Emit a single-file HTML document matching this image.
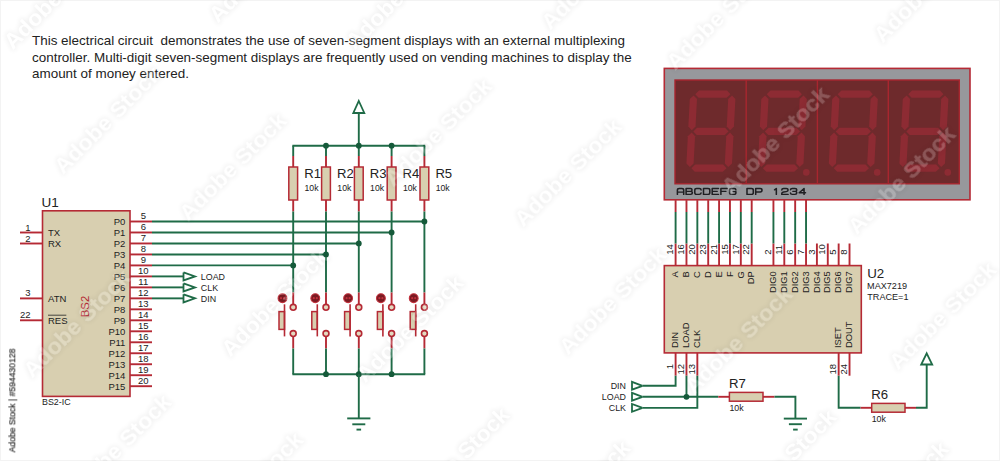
<!DOCTYPE html>
<html><head><meta charset="utf-8"><title>Seven-segment multiplexing circuit</title>
<style>
html,body{margin:0;padding:0;background:#fff;}
body{width:1000px;height:461px;overflow:hidden;font-family:"Liberation Sans",sans-serif;}
svg{display:block;font-family:"Liberation Sans",sans-serif;}
</style></head><body>
<svg width="1000" height="461" viewBox="0 0 1000 461">
<rect width="1000" height="461" fill="#ffffff"/>
<rect x="0.5" y="0.5" width="999" height="460" fill="none" stroke="#f3f3f3" stroke-width="1"/>
<text x="32" y="45.4" font-size="13.44" text-anchor="start" fill="#222222" >This electrical circuit&#160; demonstrates the use of seven-segment displays with an external multiplexing</text>
<text x="32" y="61.6" font-size="13.44" text-anchor="start" fill="#222222" >controller. Multi-digit seven-segment displays are frequently used on vending machines to display the</text>
<text x="32" y="77.9" font-size="13.44" text-anchor="start" fill="#222222" >amount of money entered.</text>
<rect x="42.5" y="210.8" width="87.5" height="185.6" fill="#d8cfb0" stroke="#b52a35" stroke-width="1.6"/>
<text x="41.6" y="207.0" font-size="13.5" text-anchor="start" fill="#222222" >U1</text>
<text x="42" y="405.2" font-size="8.9" text-anchor="start" fill="#222222" >BS2-IC</text>
<text transform="translate(89.4,306.5) rotate(-90)" font-size="11.3" text-anchor="middle" fill="#b52a35">BS2</text>
<line x1="130" y1="221.5" x2="152" y2="221.5" stroke="#b52a35" stroke-width="1.9"/>
<text x="125.4" y="224.9" font-size="9.5" text-anchor="end" fill="#222222" >P0</text>
<text x="143.3" y="218.9" font-size="9.5" text-anchor="middle" fill="#222222" >5</text>
<line x1="130" y1="232.48" x2="152" y2="232.48" stroke="#b52a35" stroke-width="1.9"/>
<text x="125.4" y="235.88" font-size="9.5" text-anchor="end" fill="#222222" >P1</text>
<text x="143.3" y="229.88" font-size="9.5" text-anchor="middle" fill="#222222" >6</text>
<line x1="130" y1="243.46" x2="152" y2="243.46" stroke="#b52a35" stroke-width="1.9"/>
<text x="125.4" y="246.86" font-size="9.5" text-anchor="end" fill="#222222" >P2</text>
<text x="143.3" y="240.86" font-size="9.5" text-anchor="middle" fill="#222222" >7</text>
<line x1="130" y1="254.44" x2="152" y2="254.44" stroke="#b52a35" stroke-width="1.9"/>
<text x="125.4" y="257.84" font-size="9.5" text-anchor="end" fill="#222222" >P3</text>
<text x="143.3" y="251.84" font-size="9.5" text-anchor="middle" fill="#222222" >8</text>
<line x1="130" y1="265.42" x2="152" y2="265.42" stroke="#b52a35" stroke-width="1.9"/>
<text x="125.4" y="268.82" font-size="9.5" text-anchor="end" fill="#222222" >P4</text>
<text x="143.3" y="262.82" font-size="9.5" text-anchor="middle" fill="#222222" >9</text>
<line x1="130" y1="276.4" x2="152" y2="276.4" stroke="#b52a35" stroke-width="1.9"/>
<text x="125.4" y="279.79999999999995" font-size="9.5" text-anchor="end" fill="#222222" >P5</text>
<text x="143.3" y="273.79999999999995" font-size="9.5" text-anchor="middle" fill="#222222" >10</text>
<line x1="130" y1="287.38" x2="152" y2="287.38" stroke="#b52a35" stroke-width="1.9"/>
<text x="125.4" y="290.78" font-size="9.5" text-anchor="end" fill="#222222" >P6</text>
<text x="143.3" y="284.78" font-size="9.5" text-anchor="middle" fill="#222222" >11</text>
<line x1="130" y1="298.36" x2="152" y2="298.36" stroke="#b52a35" stroke-width="1.9"/>
<text x="125.4" y="301.76" font-size="9.5" text-anchor="end" fill="#222222" >P7</text>
<text x="143.3" y="295.76" font-size="9.5" text-anchor="middle" fill="#222222" >12</text>
<line x1="130" y1="309.34" x2="152" y2="309.34" stroke="#b52a35" stroke-width="1.9"/>
<text x="125.4" y="312.73999999999995" font-size="9.5" text-anchor="end" fill="#222222" >P8</text>
<text x="143.3" y="306.73999999999995" font-size="9.5" text-anchor="middle" fill="#222222" >13</text>
<line x1="130" y1="320.32" x2="152" y2="320.32" stroke="#b52a35" stroke-width="1.9"/>
<text x="125.4" y="323.71999999999997" font-size="9.5" text-anchor="end" fill="#222222" >P9</text>
<text x="143.3" y="317.71999999999997" font-size="9.5" text-anchor="middle" fill="#222222" >14</text>
<line x1="130" y1="331.3" x2="152" y2="331.3" stroke="#b52a35" stroke-width="1.9"/>
<text x="125.4" y="334.7" font-size="9.5" text-anchor="end" fill="#222222" >P10</text>
<text x="143.3" y="328.7" font-size="9.5" text-anchor="middle" fill="#222222" >15</text>
<line x1="130" y1="342.28" x2="152" y2="342.28" stroke="#b52a35" stroke-width="1.9"/>
<text x="125.4" y="345.67999999999995" font-size="9.5" text-anchor="end" fill="#222222" >P11</text>
<text x="143.3" y="339.67999999999995" font-size="9.5" text-anchor="middle" fill="#222222" >16</text>
<line x1="130" y1="353.26" x2="152" y2="353.26" stroke="#b52a35" stroke-width="1.9"/>
<text x="125.4" y="356.65999999999997" font-size="9.5" text-anchor="end" fill="#222222" >P12</text>
<text x="143.3" y="350.65999999999997" font-size="9.5" text-anchor="middle" fill="#222222" >17</text>
<line x1="130" y1="364.24" x2="152" y2="364.24" stroke="#b52a35" stroke-width="1.9"/>
<text x="125.4" y="367.64" font-size="9.5" text-anchor="end" fill="#222222" >P13</text>
<text x="143.3" y="361.64" font-size="9.5" text-anchor="middle" fill="#222222" >18</text>
<line x1="130" y1="375.22" x2="152" y2="375.22" stroke="#b52a35" stroke-width="1.9"/>
<text x="125.4" y="378.62" font-size="9.5" text-anchor="end" fill="#222222" >P14</text>
<text x="143.3" y="372.62" font-size="9.5" text-anchor="middle" fill="#222222" >19</text>
<line x1="130" y1="386.2" x2="152" y2="386.2" stroke="#b52a35" stroke-width="1.9"/>
<text x="125.4" y="389.59999999999997" font-size="9.5" text-anchor="end" fill="#222222" >P15</text>
<text x="143.3" y="383.59999999999997" font-size="9.5" text-anchor="middle" fill="#222222" >20</text>
<line x1="20" y1="232.5" x2="42.5" y2="232.5" stroke="#b52a35" stroke-width="1.9"/>
<text x="30.6" y="230.5" font-size="9.5" text-anchor="end" fill="#222222" >1</text>
<text x="48" y="235.9" font-size="9.5" text-anchor="start" fill="#222222" >TX</text>
<line x1="20" y1="243.5" x2="42.5" y2="243.5" stroke="#b52a35" stroke-width="1.9"/>
<text x="30.6" y="241.5" font-size="9.5" text-anchor="end" fill="#222222" >2</text>
<text x="48" y="246.9" font-size="9.5" text-anchor="start" fill="#222222" >RX</text>
<line x1="20" y1="298.4" x2="42.5" y2="298.4" stroke="#b52a35" stroke-width="1.9"/>
<text x="30.6" y="296.4" font-size="9.5" text-anchor="end" fill="#222222" >3</text>
<text x="48" y="301.79999999999995" font-size="9.5" text-anchor="start" fill="#222222" >ATN</text>
<line x1="20" y1="320.3" x2="42.5" y2="320.3" stroke="#b52a35" stroke-width="1.9"/>
<text x="30.6" y="318.3" font-size="9.5" text-anchor="end" fill="#222222" >22</text>
<text x="48" y="323.7" font-size="9.5" text-anchor="start" fill="#222222" >RES</text>
<line x1="48" y1="315.2" x2="66.3" y2="315.2" stroke="#222222" stroke-width="0.8"/>
<line x1="152" y1="221.5" x2="424.4" y2="221.5" stroke="#1f6b47" stroke-width="1.9"/>
<line x1="152" y1="232.48" x2="391.6" y2="232.48" stroke="#1f6b47" stroke-width="1.9"/>
<line x1="152" y1="243.46" x2="358.8" y2="243.46" stroke="#1f6b47" stroke-width="1.9"/>
<line x1="152" y1="254.44" x2="326" y2="254.44" stroke="#1f6b47" stroke-width="1.9"/>
<line x1="152" y1="265.42" x2="293.2" y2="265.42" stroke="#1f6b47" stroke-width="1.9"/>
<line x1="152" y1="276.4" x2="183.5" y2="276.4" stroke="#1f6b47" stroke-width="1.9"/>
<polyline points="183.5,272.4 195,276.4 183.5,280.4 183.5,272.4" stroke="#1f6b47" stroke-width="1.8" fill="none" stroke-linejoin="miter"/>
<text x="200.8" y="279.59999999999997" font-size="8.9" text-anchor="start" fill="#222222" >LOAD</text>
<line x1="152" y1="287.38" x2="183.5" y2="287.38" stroke="#1f6b47" stroke-width="1.9"/>
<polyline points="183.5,283.38 195,287.38 183.5,291.38 183.5,283.38" stroke="#1f6b47" stroke-width="1.8" fill="none" stroke-linejoin="miter"/>
<text x="200.8" y="290.58" font-size="8.9" text-anchor="start" fill="#222222" >CLK</text>
<line x1="152" y1="298.36" x2="183.5" y2="298.36" stroke="#1f6b47" stroke-width="1.9"/>
<polyline points="183.5,294.36 195,298.36 183.5,302.36 183.5,294.36" stroke="#1f6b47" stroke-width="1.8" fill="none" stroke-linejoin="miter"/>
<text x="200.8" y="301.56" font-size="8.9" text-anchor="start" fill="#222222" >DIN</text>
<line x1="358.8" y1="113" x2="358.8" y2="145.7" stroke="#1f6b47" stroke-width="1.9"/>
<polygon points="358.8,101 364.3,113 353.3,113" stroke="#1f6b47" stroke-width="1.8" fill="none"/>
<line x1="292.4" y1="145.7" x2="425.2" y2="145.7" stroke="#1f6b47" stroke-width="1.9"/>
<line x1="292.4" y1="374.2" x2="425.2" y2="374.2" stroke="#1f6b47" stroke-width="1.9"/>
<line x1="293.2" y1="145.7" x2="293.2" y2="156" stroke="#1f6b47" stroke-width="1.9"/>
<line x1="293.2" y1="156" x2="293.2" y2="167" stroke="#b52a35" stroke-width="1.9"/>
<rect x="288.8" y="167" width="8.8" height="33" fill="#d8cfb0" stroke="#b52a35" stroke-width="1.5"/>
<line x1="293.2" y1="200" x2="293.2" y2="211.5" stroke="#b52a35" stroke-width="1.9"/>
<line x1="293.2" y1="211.5" x2="293.2" y2="292.5" stroke="#1f6b47" stroke-width="1.9"/>
<text x="304.2" y="178.3" font-size="13.1" text-anchor="start" fill="#222222" >R1</text>
<text x="304.5" y="191.2" font-size="8.7" text-anchor="start" fill="#222222" >10k</text>
<line x1="293.2" y1="292.5" x2="293.2" y2="304" stroke="#b52a35" stroke-width="1.9"/>
<circle cx="293.2" cy="307.3" r="2.95" fill="#e3d9c0" stroke="#b52a35" stroke-width="1.6"/>
<circle cx="293.2" cy="333.6" r="2.95" fill="#e3d9c0" stroke="#b52a35" stroke-width="1.6"/>
<line x1="293.2" y1="337" x2="293.2" y2="348.5" stroke="#b52a35" stroke-width="1.9"/>
<line x1="293.2" y1="348.5" x2="293.2" y2="374.2" stroke="#1f6b47" stroke-width="1.9"/>
<rect x="279.0" y="311.6" width="5.5" height="17.8" fill="#d8cfb0" stroke="#b52a35" stroke-width="1.5"/>
<line x1="284.5" y1="304.3" x2="284.5" y2="336.4" stroke="#b52a35" stroke-width="1.6"/>
<circle cx="282.5" cy="298.2" r="4.4" fill="#7a1a22" stroke="#c2313c" stroke-width="1.1"/>
<circle cx="281.0" cy="298.2" r="1.1" fill="#c2313c"/><circle cx="284.0" cy="298.2" r="1.1" fill="#c2313c"/>
<line x1="326" y1="145.7" x2="326" y2="156" stroke="#1f6b47" stroke-width="1.9"/>
<line x1="326" y1="156" x2="326" y2="167" stroke="#b52a35" stroke-width="1.9"/>
<rect x="321.6" y="167" width="8.8" height="33" fill="#d8cfb0" stroke="#b52a35" stroke-width="1.5"/>
<line x1="326" y1="200" x2="326" y2="211.5" stroke="#b52a35" stroke-width="1.9"/>
<line x1="326" y1="211.5" x2="326" y2="292.5" stroke="#1f6b47" stroke-width="1.9"/>
<text x="337.0" y="178.3" font-size="13.1" text-anchor="start" fill="#222222" >R2</text>
<text x="337.3" y="191.2" font-size="8.7" text-anchor="start" fill="#222222" >10k</text>
<line x1="326" y1="292.5" x2="326" y2="304" stroke="#b52a35" stroke-width="1.9"/>
<circle cx="326" cy="307.3" r="2.95" fill="#e3d9c0" stroke="#b52a35" stroke-width="1.6"/>
<circle cx="326" cy="333.6" r="2.95" fill="#e3d9c0" stroke="#b52a35" stroke-width="1.6"/>
<line x1="326" y1="337" x2="326" y2="348.5" stroke="#b52a35" stroke-width="1.9"/>
<line x1="326" y1="348.5" x2="326" y2="374.2" stroke="#1f6b47" stroke-width="1.9"/>
<rect x="311.8" y="311.6" width="5.5" height="17.8" fill="#d8cfb0" stroke="#b52a35" stroke-width="1.5"/>
<line x1="317.3" y1="304.3" x2="317.3" y2="336.4" stroke="#b52a35" stroke-width="1.6"/>
<circle cx="315.3" cy="298.2" r="4.4" fill="#7a1a22" stroke="#c2313c" stroke-width="1.1"/>
<circle cx="313.8" cy="298.2" r="1.1" fill="#c2313c"/><circle cx="316.8" cy="298.2" r="1.1" fill="#c2313c"/>
<line x1="358.8" y1="145.7" x2="358.8" y2="156" stroke="#1f6b47" stroke-width="1.9"/>
<line x1="358.8" y1="156" x2="358.8" y2="167" stroke="#b52a35" stroke-width="1.9"/>
<rect x="354.40000000000003" y="167" width="8.8" height="33" fill="#d8cfb0" stroke="#b52a35" stroke-width="1.5"/>
<line x1="358.8" y1="200" x2="358.8" y2="211.5" stroke="#b52a35" stroke-width="1.9"/>
<line x1="358.8" y1="211.5" x2="358.8" y2="292.5" stroke="#1f6b47" stroke-width="1.9"/>
<text x="369.8" y="178.3" font-size="13.1" text-anchor="start" fill="#222222" >R3</text>
<text x="370.1" y="191.2" font-size="8.7" text-anchor="start" fill="#222222" >10k</text>
<line x1="358.8" y1="292.5" x2="358.8" y2="304" stroke="#b52a35" stroke-width="1.9"/>
<circle cx="358.8" cy="307.3" r="2.95" fill="#e3d9c0" stroke="#b52a35" stroke-width="1.6"/>
<circle cx="358.8" cy="333.6" r="2.95" fill="#e3d9c0" stroke="#b52a35" stroke-width="1.6"/>
<line x1="358.8" y1="337" x2="358.8" y2="348.5" stroke="#b52a35" stroke-width="1.9"/>
<line x1="358.8" y1="348.5" x2="358.8" y2="374.2" stroke="#1f6b47" stroke-width="1.9"/>
<rect x="344.6" y="311.6" width="5.5" height="17.8" fill="#d8cfb0" stroke="#b52a35" stroke-width="1.5"/>
<line x1="350.1" y1="304.3" x2="350.1" y2="336.4" stroke="#b52a35" stroke-width="1.6"/>
<circle cx="348.1" cy="298.2" r="4.4" fill="#7a1a22" stroke="#c2313c" stroke-width="1.1"/>
<circle cx="346.6" cy="298.2" r="1.1" fill="#c2313c"/><circle cx="349.6" cy="298.2" r="1.1" fill="#c2313c"/>
<line x1="391.6" y1="145.7" x2="391.6" y2="156" stroke="#1f6b47" stroke-width="1.9"/>
<line x1="391.6" y1="156" x2="391.6" y2="167" stroke="#b52a35" stroke-width="1.9"/>
<rect x="387.20000000000005" y="167" width="8.8" height="33" fill="#d8cfb0" stroke="#b52a35" stroke-width="1.5"/>
<line x1="391.6" y1="200" x2="391.6" y2="211.5" stroke="#b52a35" stroke-width="1.9"/>
<line x1="391.6" y1="211.5" x2="391.6" y2="292.5" stroke="#1f6b47" stroke-width="1.9"/>
<text x="402.6" y="178.3" font-size="13.1" text-anchor="start" fill="#222222" >R4</text>
<text x="402.90000000000003" y="191.2" font-size="8.7" text-anchor="start" fill="#222222" >10k</text>
<line x1="391.6" y1="292.5" x2="391.6" y2="304" stroke="#b52a35" stroke-width="1.9"/>
<circle cx="391.6" cy="307.3" r="2.95" fill="#e3d9c0" stroke="#b52a35" stroke-width="1.6"/>
<circle cx="391.6" cy="333.6" r="2.95" fill="#e3d9c0" stroke="#b52a35" stroke-width="1.6"/>
<line x1="391.6" y1="337" x2="391.6" y2="348.5" stroke="#b52a35" stroke-width="1.9"/>
<line x1="391.6" y1="348.5" x2="391.6" y2="374.2" stroke="#1f6b47" stroke-width="1.9"/>
<rect x="377.40000000000003" y="311.6" width="5.5" height="17.8" fill="#d8cfb0" stroke="#b52a35" stroke-width="1.5"/>
<line x1="382.90000000000003" y1="304.3" x2="382.90000000000003" y2="336.4" stroke="#b52a35" stroke-width="1.6"/>
<circle cx="380.90000000000003" cy="298.2" r="4.4" fill="#7a1a22" stroke="#c2313c" stroke-width="1.1"/>
<circle cx="379.40000000000003" cy="298.2" r="1.1" fill="#c2313c"/><circle cx="382.40000000000003" cy="298.2" r="1.1" fill="#c2313c"/>
<line x1="424.4" y1="145.7" x2="424.4" y2="156" stroke="#1f6b47" stroke-width="1.9"/>
<line x1="424.4" y1="156" x2="424.4" y2="167" stroke="#b52a35" stroke-width="1.9"/>
<rect x="420.0" y="167" width="8.8" height="33" fill="#d8cfb0" stroke="#b52a35" stroke-width="1.5"/>
<line x1="424.4" y1="200" x2="424.4" y2="211.5" stroke="#b52a35" stroke-width="1.9"/>
<line x1="424.4" y1="211.5" x2="424.4" y2="292.5" stroke="#1f6b47" stroke-width="1.9"/>
<text x="435.4" y="178.3" font-size="13.1" text-anchor="start" fill="#222222" >R5</text>
<text x="435.7" y="191.2" font-size="8.7" text-anchor="start" fill="#222222" >10k</text>
<line x1="424.4" y1="292.5" x2="424.4" y2="304" stroke="#b52a35" stroke-width="1.9"/>
<circle cx="424.4" cy="307.3" r="2.95" fill="#e3d9c0" stroke="#b52a35" stroke-width="1.6"/>
<circle cx="424.4" cy="333.6" r="2.95" fill="#e3d9c0" stroke="#b52a35" stroke-width="1.6"/>
<line x1="424.4" y1="337" x2="424.4" y2="348.5" stroke="#b52a35" stroke-width="1.9"/>
<line x1="424.4" y1="348.5" x2="424.4" y2="374.2" stroke="#1f6b47" stroke-width="1.9"/>
<rect x="410.2" y="311.6" width="5.5" height="17.8" fill="#d8cfb0" stroke="#b52a35" stroke-width="1.5"/>
<line x1="415.7" y1="304.3" x2="415.7" y2="336.4" stroke="#b52a35" stroke-width="1.6"/>
<circle cx="413.7" cy="298.2" r="4.4" fill="#7a1a22" stroke="#c2313c" stroke-width="1.1"/>
<circle cx="412.2" cy="298.2" r="1.1" fill="#c2313c"/><circle cx="415.2" cy="298.2" r="1.1" fill="#c2313c"/>
<circle cx="326" cy="145.7" r="2.9" fill="#155a3a"/>
<circle cx="326" cy="374.2" r="2.9" fill="#155a3a"/>
<circle cx="358.8" cy="145.7" r="2.9" fill="#155a3a"/>
<circle cx="358.8" cy="374.2" r="2.9" fill="#155a3a"/>
<circle cx="391.6" cy="145.7" r="2.9" fill="#155a3a"/>
<circle cx="391.6" cy="374.2" r="2.9" fill="#155a3a"/>
<circle cx="424.4" cy="221.5" r="2.9" fill="#155a3a"/>
<circle cx="391.6" cy="232.48" r="2.9" fill="#155a3a"/>
<circle cx="358.8" cy="243.46" r="2.9" fill="#155a3a"/>
<circle cx="326" cy="254.44" r="2.9" fill="#155a3a"/>
<circle cx="293.2" cy="265.42" r="2.9" fill="#155a3a"/>
<line x1="358.8" y1="374.2" x2="358.8" y2="418.4" stroke="#1f6b47" stroke-width="1.9"/>
<line x1="347.2" y1="418.4" x2="370.4" y2="418.4" stroke="#1f6b47" stroke-width="1.9"/>
<line x1="352.3" y1="424.3" x2="365.3" y2="424.3" stroke="#1f6b47" stroke-width="1.9"/>
<line x1="356.5" y1="429.6" x2="361.1" y2="429.6" stroke="#1f6b47" stroke-width="1.9"/>
<rect x="664.3" y="68.4" width="305.7" height="131.4" fill="#97989c" stroke="#b52a35" stroke-width="1.6"/>
<rect x="675.0" y="80.0" width="284.3" height="103.8" fill="#6e2a2c" stroke="#a8262f" stroke-width="1.4"/>
<line x1="746.2" y1="80" x2="746.2" y2="183.8" stroke="#a8262f" stroke-width="1.4"/>
<line x1="817.4" y1="80" x2="817.4" y2="183.8" stroke="#a8262f" stroke-width="1.4"/>
<line x1="888.3" y1="80" x2="888.3" y2="183.8" stroke="#a8262f" stroke-width="1.4"/>
<g transform="translate(710.9,131.4) skewX(-3)" fill="#8d2b33">
<polygon points="-17.6,-37.2 -14.000000000000002,-40.800000000000004 14.000000000000002,-40.800000000000004 17.6,-37.2 14.000000000000002,-33.6 -14.000000000000002,-33.6"/>
<polygon points="-17.6,0 -14.000000000000002,-3.6 14.000000000000002,-3.6 17.6,0 14.000000000000002,3.6 -14.000000000000002,3.6"/>
<polygon points="-17.6,36.8 -14.000000000000002,33.199999999999996 14.000000000000002,33.199999999999996 17.6,36.8 14.000000000000002,40.4 -14.000000000000002,40.4"/>
<polygon points="-19.2,-36.0 -15.6,-32.4 -15.6,-4.8 -19.2,-1.2 -22.8,-4.8 -22.8,-32.4"/>
<polygon points="-19.2,1.2 -15.6,4.8 -15.6,31.999999999999993 -19.2,35.599999999999994 -22.8,31.999999999999993 -22.8,4.8"/>
<polygon points="19.2,-36.0 22.8,-32.4 22.8,-4.8 19.2,-1.2 15.6,-4.8 15.6,-32.4"/>
<polygon points="19.2,1.2 22.8,4.8 22.8,31.999999999999993 19.2,35.599999999999994 15.6,31.999999999999993 15.6,4.8"/>
</g>
<g transform="translate(782.4,131.4) skewX(-3)" fill="#8d2b33">
<polygon points="-17.6,-37.2 -14.000000000000002,-40.800000000000004 14.000000000000002,-40.800000000000004 17.6,-37.2 14.000000000000002,-33.6 -14.000000000000002,-33.6"/>
<polygon points="-17.6,0 -14.000000000000002,-3.6 14.000000000000002,-3.6 17.6,0 14.000000000000002,3.6 -14.000000000000002,3.6"/>
<polygon points="-17.6,36.8 -14.000000000000002,33.199999999999996 14.000000000000002,33.199999999999996 17.6,36.8 14.000000000000002,40.4 -14.000000000000002,40.4"/>
<polygon points="-19.2,-36.0 -15.6,-32.4 -15.6,-4.8 -19.2,-1.2 -22.8,-4.8 -22.8,-32.4"/>
<polygon points="-19.2,1.2 -15.6,4.8 -15.6,31.999999999999993 -19.2,35.599999999999994 -22.8,31.999999999999993 -22.8,4.8"/>
<polygon points="19.2,-36.0 22.8,-32.4 22.8,-4.8 19.2,-1.2 15.6,-4.8 15.6,-32.4"/>
<polygon points="19.2,1.2 22.8,4.8 22.8,31.999999999999993 19.2,35.599999999999994 15.6,31.999999999999993 15.6,4.8"/>
</g>
<circle cx="806.3" cy="172.4" r="3.3" fill="#8d2b33"/>
<g transform="translate(853.3,131.4) skewX(-3)" fill="#8d2b33">
<polygon points="-17.6,-37.2 -14.000000000000002,-40.800000000000004 14.000000000000002,-40.800000000000004 17.6,-37.2 14.000000000000002,-33.6 -14.000000000000002,-33.6"/>
<polygon points="-17.6,0 -14.000000000000002,-3.6 14.000000000000002,-3.6 17.6,0 14.000000000000002,3.6 -14.000000000000002,3.6"/>
<polygon points="-17.6,36.8 -14.000000000000002,33.199999999999996 14.000000000000002,33.199999999999996 17.6,36.8 14.000000000000002,40.4 -14.000000000000002,40.4"/>
<polygon points="-19.2,-36.0 -15.6,-32.4 -15.6,-4.8 -19.2,-1.2 -22.8,-4.8 -22.8,-32.4"/>
<polygon points="-19.2,1.2 -15.6,4.8 -15.6,31.999999999999993 -19.2,35.599999999999994 -22.8,31.999999999999993 -22.8,4.8"/>
<polygon points="19.2,-36.0 22.8,-32.4 22.8,-4.8 19.2,-1.2 15.6,-4.8 15.6,-32.4"/>
<polygon points="19.2,1.2 22.8,4.8 22.8,31.999999999999993 19.2,35.599999999999994 15.6,31.999999999999993 15.6,4.8"/>
</g>
<circle cx="877.1999999999999" cy="172.4" r="3.3" fill="#8d2b33"/>
<g transform="translate(923.9,131.4) skewX(-3)" fill="#8d2b33">
<polygon points="-17.6,-37.2 -14.000000000000002,-40.800000000000004 14.000000000000002,-40.800000000000004 17.6,-37.2 14.000000000000002,-33.6 -14.000000000000002,-33.6"/>
<polygon points="-17.6,0 -14.000000000000002,-3.6 14.000000000000002,-3.6 17.6,0 14.000000000000002,3.6 -14.000000000000002,3.6"/>
<polygon points="-17.6,36.8 -14.000000000000002,33.199999999999996 14.000000000000002,33.199999999999996 17.6,36.8 14.000000000000002,40.4 -14.000000000000002,40.4"/>
<polygon points="-19.2,-36.0 -15.6,-32.4 -15.6,-4.8 -19.2,-1.2 -22.8,-4.8 -22.8,-32.4"/>
<polygon points="-19.2,1.2 -15.6,4.8 -15.6,31.999999999999993 -19.2,35.599999999999994 -22.8,31.999999999999993 -22.8,4.8"/>
<polygon points="19.2,-36.0 22.8,-32.4 22.8,-4.8 19.2,-1.2 15.6,-4.8 15.6,-32.4"/>
<polygon points="19.2,1.2 22.8,4.8 22.8,31.999999999999993 19.2,35.599999999999994 15.6,31.999999999999993 15.6,4.8"/>
</g>
<circle cx="947.8" cy="172.4" r="3.3" fill="#8d2b33"/>
<g fill="none" stroke="#1f1f22" stroke-width="1.7" stroke-linejoin="round" stroke-linecap="round">
<path transform="translate(677.40,188.5) scale(0.9,0.84)" d="M0,7 L0,2 Q0,0 2,0 L5,0 Q7,0 7,2 L7,7 M0,4.3 L7,4.3"/>
<path transform="translate(686.10,188.5) scale(0.9,0.84)" d="M0,0 L5,0 Q6.6,0 6.6,1.7 Q6.6,3.4 5,3.4 L0,3.4 M0,0 L0,7 L5,7 Q7,7 7,5.2 Q7,3.4 5,3.4"/>
<path transform="translate(694.80,188.5) scale(0.9,0.84)" d="M7,1.8 Q7,0 5,0 L2,0 Q0,0 0,2 L0,5 Q0,7 2,7 L5,7 Q7,7 7,5.2"/>
<path transform="translate(703.50,188.5) scale(0.9,0.84)" d="M0,0 L5,0 Q7,0 7,2 L7,5 Q7,7 5,7 L0,7 Z"/>
<path transform="translate(712.20,188.5) scale(0.9,0.84)" d="M7,0 L0,0 L0,7 L7,7 M0,3.4 L5.6,3.4"/>
<path transform="translate(720.90,188.5) scale(0.9,0.84)" d="M7,0 L0,0 L0,7 M0,3.4 L5.6,3.4"/>
<path transform="translate(729.60,188.5) scale(0.9,0.84)" d="M7,1.8 Q7,0 5,0 L2,0 Q0,0 0,2 L0,5 Q0,7 2,7 L5,7 Q7,7 7,5 L7,3.7 L3.8,3.7"/>
<path transform="translate(747.00,188.5) scale(0.9,0.84)" d="M0,0 L5,0 Q7,0 7,2 L7,5 Q7,7 5,7 L0,7 Z"/>
<path transform="translate(755.70,188.5) scale(0.9,0.84)" d="M0,7 L0,0 L5,0 Q7,0 7,2 Q7,4.1 5,4.1 L0,4.1"/>
<path transform="translate(773.10,188.5) scale(0.9,0.84)" d="M1.6,1.6 L3.6,0 L3.6,7"/>
<path transform="translate(781.80,188.5) scale(0.9,0.84)" d="M0,1.8 Q0,0 2,0 L5,0 Q7,0 7,1.8 Q7,3.4 5,3.7 L2,4.2 Q0,4.5 0,6 L0,7 L7,7"/>
<path transform="translate(790.50,188.5) scale(0.9,0.84)" d="M0,1.6 Q0,0 2,0 L5,0 Q7,0 7,1.7 Q7,3.4 5,3.4 L2.6,3.4 M5,3.4 Q7,3.4 7,5.2 Q7,7 5,7 L2,7 Q0,7 0,5.4"/>
<path transform="translate(799.20,188.5) scale(0.9,0.84)" d="M5.4,7 L5.4,0 L0,5 L7,5"/>
</g>
<rect x="664.3" y="265.6" width="197" height="87.3" fill="#d8cfb0" stroke="#b52a35" stroke-width="1.6"/>
<text x="867.2" y="277.5" font-size="13.3" text-anchor="start" fill="#222222" >U2</text>
<text x="867.1" y="289.4" font-size="9.1" text-anchor="start" fill="#222222" >MAX7219</text>
<text x="867.3" y="300.4" font-size="9.1" text-anchor="start" fill="#222222" >TRACE=1</text>
<line x1="675.6" y1="243.5" x2="675.6" y2="265.6" stroke="#b52a35" stroke-width="1.9"/>
<line x1="675.6" y1="200.1" x2="675.6" y2="212" stroke="#b52a35" stroke-width="1.9"/>
<line x1="675.6" y1="212" x2="675.6" y2="243.5" stroke="#1f6b47" stroke-width="1.9"/>
<text transform="translate(678.3000000000001,271.2) rotate(-90)" font-size="9.35" text-anchor="end" fill="#222222">A</text>
<text transform="translate(673.3000000000001,254.8) rotate(-90)" font-size="9.5" text-anchor="start" fill="#222222">14</text>
<line x1="686.47" y1="243.5" x2="686.47" y2="265.6" stroke="#b52a35" stroke-width="1.9"/>
<line x1="686.47" y1="200.1" x2="686.47" y2="212" stroke="#b52a35" stroke-width="1.9"/>
<line x1="686.47" y1="212" x2="686.47" y2="243.5" stroke="#1f6b47" stroke-width="1.9"/>
<text transform="translate(689.1700000000001,271.2) rotate(-90)" font-size="9.35" text-anchor="end" fill="#222222">B</text>
<text transform="translate(684.1700000000001,254.8) rotate(-90)" font-size="9.5" text-anchor="start" fill="#222222">16</text>
<line x1="697.34" y1="243.5" x2="697.34" y2="265.6" stroke="#b52a35" stroke-width="1.9"/>
<line x1="697.34" y1="200.1" x2="697.34" y2="212" stroke="#b52a35" stroke-width="1.9"/>
<line x1="697.34" y1="212" x2="697.34" y2="243.5" stroke="#1f6b47" stroke-width="1.9"/>
<text transform="translate(700.0400000000001,271.2) rotate(-90)" font-size="9.35" text-anchor="end" fill="#222222">C</text>
<text transform="translate(695.0400000000001,254.8) rotate(-90)" font-size="9.5" text-anchor="start" fill="#222222">20</text>
<line x1="708.21" y1="243.5" x2="708.21" y2="265.6" stroke="#b52a35" stroke-width="1.9"/>
<line x1="708.21" y1="200.1" x2="708.21" y2="212" stroke="#b52a35" stroke-width="1.9"/>
<line x1="708.21" y1="212" x2="708.21" y2="243.5" stroke="#1f6b47" stroke-width="1.9"/>
<text transform="translate(710.9100000000001,271.2) rotate(-90)" font-size="9.35" text-anchor="end" fill="#222222">D</text>
<text transform="translate(705.9100000000001,254.8) rotate(-90)" font-size="9.5" text-anchor="start" fill="#222222">23</text>
<line x1="719.08" y1="243.5" x2="719.08" y2="265.6" stroke="#b52a35" stroke-width="1.9"/>
<line x1="719.08" y1="200.1" x2="719.08" y2="212" stroke="#b52a35" stroke-width="1.9"/>
<line x1="719.08" y1="212" x2="719.08" y2="243.5" stroke="#1f6b47" stroke-width="1.9"/>
<text transform="translate(721.7800000000001,271.2) rotate(-90)" font-size="9.35" text-anchor="end" fill="#222222">E</text>
<text transform="translate(716.7800000000001,254.8) rotate(-90)" font-size="9.5" text-anchor="start" fill="#222222">21</text>
<line x1="729.95" y1="243.5" x2="729.95" y2="265.6" stroke="#b52a35" stroke-width="1.9"/>
<line x1="729.95" y1="200.1" x2="729.95" y2="212" stroke="#b52a35" stroke-width="1.9"/>
<line x1="729.95" y1="212" x2="729.95" y2="243.5" stroke="#1f6b47" stroke-width="1.9"/>
<text transform="translate(732.6500000000001,271.2) rotate(-90)" font-size="9.35" text-anchor="end" fill="#222222">F</text>
<text transform="translate(727.6500000000001,254.8) rotate(-90)" font-size="9.5" text-anchor="start" fill="#222222">15</text>
<line x1="740.82" y1="243.5" x2="740.82" y2="265.6" stroke="#b52a35" stroke-width="1.9"/>
<line x1="740.82" y1="200.1" x2="740.82" y2="212" stroke="#b52a35" stroke-width="1.9"/>
<line x1="740.82" y1="212" x2="740.82" y2="243.5" stroke="#1f6b47" stroke-width="1.9"/>
<text transform="translate(743.5200000000001,271.2) rotate(-90)" font-size="9.35" text-anchor="end" fill="#222222">G</text>
<text transform="translate(738.5200000000001,254.8) rotate(-90)" font-size="9.5" text-anchor="start" fill="#222222">17</text>
<line x1="751.69" y1="243.5" x2="751.69" y2="265.6" stroke="#b52a35" stroke-width="1.9"/>
<line x1="751.69" y1="200.1" x2="751.69" y2="212" stroke="#b52a35" stroke-width="1.9"/>
<line x1="751.69" y1="212" x2="751.69" y2="243.5" stroke="#1f6b47" stroke-width="1.9"/>
<text transform="translate(754.3900000000001,271.2) rotate(-90)" font-size="9.35" text-anchor="end" fill="#222222">DP</text>
<text transform="translate(749.3900000000001,254.8) rotate(-90)" font-size="9.5" text-anchor="start" fill="#222222">22</text>
<line x1="773.43" y1="243.5" x2="773.43" y2="265.6" stroke="#b52a35" stroke-width="1.9"/>
<line x1="773.43" y1="200.1" x2="773.43" y2="212" stroke="#b52a35" stroke-width="1.9"/>
<line x1="773.43" y1="212" x2="773.43" y2="243.5" stroke="#1f6b47" stroke-width="1.9"/>
<text transform="translate(776.13,271.2) rotate(-90)" font-size="9.35" text-anchor="end" fill="#222222">DIG0</text>
<text transform="translate(771.13,254.8) rotate(-90)" font-size="9.5" text-anchor="start" fill="#222222">2</text>
<line x1="784.3" y1="243.5" x2="784.3" y2="265.6" stroke="#b52a35" stroke-width="1.9"/>
<line x1="784.3" y1="200.1" x2="784.3" y2="212" stroke="#b52a35" stroke-width="1.9"/>
<line x1="784.3" y1="212" x2="784.3" y2="243.5" stroke="#1f6b47" stroke-width="1.9"/>
<text transform="translate(787.0,271.2) rotate(-90)" font-size="9.35" text-anchor="end" fill="#222222">DIG1</text>
<text transform="translate(782.0,254.8) rotate(-90)" font-size="9.5" text-anchor="start" fill="#222222">11</text>
<line x1="795.17" y1="243.5" x2="795.17" y2="265.6" stroke="#b52a35" stroke-width="1.9"/>
<line x1="795.17" y1="200.1" x2="795.17" y2="212" stroke="#b52a35" stroke-width="1.9"/>
<line x1="795.17" y1="212" x2="795.17" y2="243.5" stroke="#1f6b47" stroke-width="1.9"/>
<text transform="translate(797.87,271.2) rotate(-90)" font-size="9.35" text-anchor="end" fill="#222222">DIG2</text>
<text transform="translate(792.87,254.8) rotate(-90)" font-size="9.5" text-anchor="start" fill="#222222">6</text>
<line x1="806.04" y1="243.5" x2="806.04" y2="265.6" stroke="#b52a35" stroke-width="1.9"/>
<line x1="806.04" y1="200.1" x2="806.04" y2="212" stroke="#b52a35" stroke-width="1.9"/>
<line x1="806.04" y1="212" x2="806.04" y2="243.5" stroke="#1f6b47" stroke-width="1.9"/>
<text transform="translate(808.74,271.2) rotate(-90)" font-size="9.35" text-anchor="end" fill="#222222">DIG3</text>
<text transform="translate(803.74,254.8) rotate(-90)" font-size="9.5" text-anchor="start" fill="#222222">7</text>
<line x1="816.91" y1="243.5" x2="816.91" y2="265.6" stroke="#b52a35" stroke-width="1.9"/>
<text transform="translate(819.61,271.2) rotate(-90)" font-size="9.35" text-anchor="end" fill="#222222">DIG4</text>
<text transform="translate(814.61,254.8) rotate(-90)" font-size="9.5" text-anchor="start" fill="#222222">3</text>
<line x1="827.78" y1="243.5" x2="827.78" y2="265.6" stroke="#b52a35" stroke-width="1.9"/>
<text transform="translate(830.48,271.2) rotate(-90)" font-size="9.35" text-anchor="end" fill="#222222">DIG5</text>
<text transform="translate(825.48,254.8) rotate(-90)" font-size="9.5" text-anchor="start" fill="#222222">10</text>
<line x1="838.65" y1="243.5" x2="838.65" y2="265.6" stroke="#b52a35" stroke-width="1.9"/>
<text transform="translate(841.35,271.2) rotate(-90)" font-size="9.35" text-anchor="end" fill="#222222">DIG6</text>
<text transform="translate(836.35,254.8) rotate(-90)" font-size="9.5" text-anchor="start" fill="#222222">5</text>
<line x1="849.52" y1="243.5" x2="849.52" y2="265.6" stroke="#b52a35" stroke-width="1.9"/>
<text transform="translate(852.22,271.2) rotate(-90)" font-size="9.35" text-anchor="end" fill="#222222">DIG7</text>
<text transform="translate(847.22,254.8) rotate(-90)" font-size="9.5" text-anchor="start" fill="#222222">8</text>
<line x1="675.6" y1="352.9" x2="675.6" y2="375.7" stroke="#b52a35" stroke-width="1.9"/>
<text transform="translate(678.3000000000001,348) rotate(-90)" font-size="9.35" text-anchor="start" fill="#222222">DIN</text>
<text transform="translate(673.3000000000001,363.9) rotate(-90)" font-size="9.5" text-anchor="end" fill="#222222">1</text>
<line x1="686.47" y1="352.9" x2="686.47" y2="375.7" stroke="#b52a35" stroke-width="1.9"/>
<text transform="translate(689.1700000000001,348) rotate(-90)" font-size="9.35" text-anchor="start" fill="#222222">LOAD</text>
<text transform="translate(684.1700000000001,363.9) rotate(-90)" font-size="9.5" text-anchor="end" fill="#222222">12</text>
<line x1="697.34" y1="352.9" x2="697.34" y2="375.7" stroke="#b52a35" stroke-width="1.9"/>
<text transform="translate(700.0400000000001,348) rotate(-90)" font-size="9.35" text-anchor="start" fill="#222222">CLK</text>
<text transform="translate(695.0400000000001,363.9) rotate(-90)" font-size="9.5" text-anchor="end" fill="#222222">13</text>
<line x1="838.65" y1="352.9" x2="838.65" y2="375.7" stroke="#b52a35" stroke-width="1.9"/>
<text transform="translate(841.35,348) rotate(-90)" font-size="9.35" text-anchor="start" fill="#222222">ISET</text>
<text transform="translate(836.35,363.9) rotate(-90)" font-size="9.5" text-anchor="end" fill="#222222">18</text>
<line x1="849.52" y1="352.9" x2="849.52" y2="375.7" stroke="#b52a35" stroke-width="1.9"/>
<text transform="translate(852.22,348) rotate(-90)" font-size="9.35" text-anchor="start" fill="#222222">DOUT</text>
<text transform="translate(847.22,363.9) rotate(-90)" font-size="9.5" text-anchor="end" fill="#222222">24</text>
<polyline points="675.6,375.7 675.6,385.8 642.5,385.8" stroke="#1f6b47" stroke-width="1.9" fill="none" stroke-linejoin="miter"/>
<polyline points="686.47,375.7 686.47,396.8" stroke="#1f6b47" stroke-width="1.9" fill="none" stroke-linejoin="miter"/>
<line x1="642.5" y1="396.8" x2="718.3" y2="396.8" stroke="#1f6b47" stroke-width="1.9"/>
<polyline points="697.34,375.7 697.34,407.9 642.5,407.9" stroke="#1f6b47" stroke-width="1.9" fill="none" stroke-linejoin="miter"/>
<polyline points="642.5,385.8 632,381.90000000000003 632,389.7 642.5,385.8" stroke="#1f6b47" stroke-width="1.8" fill="none" stroke-linejoin="miter"/>
<text x="626" y="389.0" font-size="8.9" text-anchor="end" fill="#222222" >DIN</text>
<polyline points="642.5,396.8 632,392.90000000000003 632,400.7 642.5,396.8" stroke="#1f6b47" stroke-width="1.8" fill="none" stroke-linejoin="miter"/>
<text x="626" y="400.0" font-size="8.9" text-anchor="end" fill="#222222" >LOAD</text>
<polyline points="642.5,407.9 632,404.0 632,411.79999999999995 642.5,407.9" stroke="#1f6b47" stroke-width="1.8" fill="none" stroke-linejoin="miter"/>
<text x="626" y="411.09999999999997" font-size="8.9" text-anchor="end" fill="#222222" >CLK</text>
<circle cx="686.47" cy="396.8" r="2.9" fill="#155a3a"/>
<line x1="718.3" y1="396.8" x2="729.4" y2="396.8" stroke="#b52a35" stroke-width="1.9"/>
<line x1="763" y1="396.8" x2="774.5" y2="396.8" stroke="#b52a35" stroke-width="1.9"/>
<rect x="729.4" y="392.40000000000003" width="33.6" height="8.8" fill="#d8cfb0" stroke="#b52a35" stroke-width="1.5"/>
<text x="729" y="388.1" font-size="13.2" text-anchor="start" fill="#222222" >R7</text>
<text x="729.4" y="410.5" font-size="8.8" text-anchor="start" fill="#222222" >10k</text>
<polyline points="774.5,396.8 795.4,396.8 795.4,418.6" stroke="#1f6b47" stroke-width="1.9" fill="none" stroke-linejoin="miter"/>
<line x1="783.8" y1="418.6" x2="807" y2="418.6" stroke="#1f6b47" stroke-width="1.9"/>
<line x1="788.9" y1="424.2" x2="801.9" y2="424.2" stroke="#1f6b47" stroke-width="1.9"/>
<line x1="793.1" y1="429.6" x2="797.7" y2="429.6" stroke="#1f6b47" stroke-width="1.9"/>
<polyline points="838.65,375.7 838.65,407.8 860.6,407.8" stroke="#1f6b47" stroke-width="1.9" fill="none" stroke-linejoin="miter"/>
<line x1="860.6" y1="407.8" x2="871.7" y2="407.8" stroke="#b52a35" stroke-width="1.9"/>
<line x1="905" y1="407.8" x2="916" y2="407.8" stroke="#b52a35" stroke-width="1.9"/>
<rect x="871.7" y="403.40000000000003" width="33.3" height="8.8" fill="#d8cfb0" stroke="#b52a35" stroke-width="1.5"/>
<text x="871.3" y="399.2" font-size="13.2" text-anchor="start" fill="#222222" >R6</text>
<text x="871.7" y="421.5" font-size="8.8" text-anchor="start" fill="#222222" >10k</text>
<polyline points="916,407.8 926.7,407.8 926.7,364.5" stroke="#1f6b47" stroke-width="1.9" fill="none" stroke-linejoin="miter"/>
<polygon points="926.7,353.4 932.2,364.5 921.2,364.5" stroke="#1f6b47" stroke-width="1.8" fill="none"/>
<defs><filter id="wb" x="-5%" y="-5%" width="110%" height="110%"><feMorphology in="SourceAlpha" operator="dilate" radius="1" result="d"/><feGaussianBlur in="d" stdDeviation="2.5" result="b"/><feComposite in="b" in2="SourceAlpha" operator="out"/></filter></defs>
<g font-weight="bold" font-size="22" text-anchor="middle" fill="#000" opacity="0.058" filter="url(#wb)">
<text transform="translate(62.5,0.7) rotate(-45)" textLength="141" lengthAdjust="spacingAndGlyphs">Adobe Stock</text>
<text transform="translate(267.5,-26) rotate(-45)" textLength="141" lengthAdjust="spacingAndGlyphs">Adobe Stock</text>
<text transform="translate(404.5,0.7) rotate(-45)" textLength="141" lengthAdjust="spacingAndGlyphs">Adobe Stock</text>
<text transform="translate(600,-19) rotate(-45)" textLength="141" lengthAdjust="spacingAndGlyphs">Adobe Stock</text>
<text transform="translate(725,21) rotate(-45)" textLength="141" lengthAdjust="spacingAndGlyphs">Adobe Stock</text>
<text transform="translate(932.5,-6) rotate(-45)" textLength="141" lengthAdjust="spacingAndGlyphs">Adobe Stock</text>
<text transform="translate(112.9,125.3) rotate(-45)" textLength="141" lengthAdjust="spacingAndGlyphs">Adobe Stock</text>
<text transform="translate(238,172) rotate(-45)" textLength="141" lengthAdjust="spacingAndGlyphs">Adobe Stock</text>
<text transform="translate(443.3,137.6) rotate(-45)" textLength="141" lengthAdjust="spacingAndGlyphs">Adobe Stock</text>
<text transform="translate(573,178) rotate(-45)" textLength="141" lengthAdjust="spacingAndGlyphs">Adobe Stock</text>
<text transform="translate(780.5,145.8) rotate(-45)" textLength="141" lengthAdjust="spacingAndGlyphs">Adobe Stock</text>
<text transform="translate(906.6,185.6) rotate(-45)" textLength="141" lengthAdjust="spacingAndGlyphs">Adobe Stock</text>
<text transform="translate(82,329) rotate(-45)" textLength="141" lengthAdjust="spacingAndGlyphs">Adobe Stock</text>
<text transform="translate(280,308) rotate(-45)" textLength="141" lengthAdjust="spacingAndGlyphs">Adobe Stock</text>
<text transform="translate(415,334) rotate(-45)" textLength="141" lengthAdjust="spacingAndGlyphs">Adobe Stock</text>
<text transform="translate(617.8,306) rotate(-45)" textLength="141" lengthAdjust="spacingAndGlyphs">Adobe Stock</text>
<text transform="translate(743.8,345.6) rotate(-45)" textLength="141" lengthAdjust="spacingAndGlyphs">Adobe Stock</text>
<text transform="translate(947.8,321) rotate(-45)" textLength="141" lengthAdjust="spacingAndGlyphs">Adobe Stock</text>
<text transform="translate(122.8,453.4) rotate(-45)" textLength="141" lengthAdjust="spacingAndGlyphs">Adobe Stock</text>
<text transform="translate(254.7,491) rotate(-45)" textLength="141" lengthAdjust="spacingAndGlyphs">Adobe Stock</text>
<text transform="translate(461,466) rotate(-45)" textLength="141" lengthAdjust="spacingAndGlyphs">Adobe Stock</text>
<text transform="translate(582,499) rotate(-45)" textLength="141" lengthAdjust="spacingAndGlyphs">Adobe Stock</text>
<text transform="translate(788,468) rotate(-45)" textLength="141" lengthAdjust="spacingAndGlyphs">Adobe Stock</text>
<text transform="translate(900,500) rotate(-45)" textLength="141" lengthAdjust="spacingAndGlyphs">Adobe Stock</text>
</g>
<g font-weight="bold" font-size="22" text-anchor="middle" fill="#fff" stroke="#fff" stroke-width="0.5" opacity="0.21">
<text transform="translate(62.5,0.7) rotate(-45)" textLength="141" lengthAdjust="spacingAndGlyphs">Adobe Stock</text>
<text transform="translate(267.5,-26) rotate(-45)" textLength="141" lengthAdjust="spacingAndGlyphs">Adobe Stock</text>
<text transform="translate(404.5,0.7) rotate(-45)" textLength="141" lengthAdjust="spacingAndGlyphs">Adobe Stock</text>
<text transform="translate(600,-19) rotate(-45)" textLength="141" lengthAdjust="spacingAndGlyphs">Adobe Stock</text>
<text transform="translate(725,21) rotate(-45)" textLength="141" lengthAdjust="spacingAndGlyphs">Adobe Stock</text>
<text transform="translate(932.5,-6) rotate(-45)" textLength="141" lengthAdjust="spacingAndGlyphs">Adobe Stock</text>
<text transform="translate(112.9,125.3) rotate(-45)" textLength="141" lengthAdjust="spacingAndGlyphs">Adobe Stock</text>
<text transform="translate(238,172) rotate(-45)" textLength="141" lengthAdjust="spacingAndGlyphs">Adobe Stock</text>
<text transform="translate(443.3,137.6) rotate(-45)" textLength="141" lengthAdjust="spacingAndGlyphs">Adobe Stock</text>
<text transform="translate(573,178) rotate(-45)" textLength="141" lengthAdjust="spacingAndGlyphs">Adobe Stock</text>
<text transform="translate(780.5,145.8) rotate(-45)" textLength="141" lengthAdjust="spacingAndGlyphs">Adobe Stock</text>
<text transform="translate(906.6,185.6) rotate(-45)" textLength="141" lengthAdjust="spacingAndGlyphs">Adobe Stock</text>
<text transform="translate(82,329) rotate(-45)" textLength="141" lengthAdjust="spacingAndGlyphs">Adobe Stock</text>
<text transform="translate(280,308) rotate(-45)" textLength="141" lengthAdjust="spacingAndGlyphs">Adobe Stock</text>
<text transform="translate(415,334) rotate(-45)" textLength="141" lengthAdjust="spacingAndGlyphs">Adobe Stock</text>
<text transform="translate(617.8,306) rotate(-45)" textLength="141" lengthAdjust="spacingAndGlyphs">Adobe Stock</text>
<text transform="translate(743.8,345.6) rotate(-45)" textLength="141" lengthAdjust="spacingAndGlyphs">Adobe Stock</text>
<text transform="translate(947.8,321) rotate(-45)" textLength="141" lengthAdjust="spacingAndGlyphs">Adobe Stock</text>
<text transform="translate(122.8,453.4) rotate(-45)" textLength="141" lengthAdjust="spacingAndGlyphs">Adobe Stock</text>
<text transform="translate(254.7,491) rotate(-45)" textLength="141" lengthAdjust="spacingAndGlyphs">Adobe Stock</text>
<text transform="translate(461,466) rotate(-45)" textLength="141" lengthAdjust="spacingAndGlyphs">Adobe Stock</text>
<text transform="translate(582,499) rotate(-45)" textLength="141" lengthAdjust="spacingAndGlyphs">Adobe Stock</text>
<text transform="translate(788,468) rotate(-45)" textLength="141" lengthAdjust="spacingAndGlyphs">Adobe Stock</text>
<text transform="translate(900,500) rotate(-45)" textLength="141" lengthAdjust="spacingAndGlyphs">Adobe Stock</text>
</g>
<text transform="translate(15.3,452.4) rotate(-90)" font-size="9.6" fill="#2a2a2a" stroke="#2a2a2a" stroke-width="0.2" textLength="103.8" lengthAdjust="spacingAndGlyphs">Adobe Stock | #594430128</text>
</svg>
</body></html>
